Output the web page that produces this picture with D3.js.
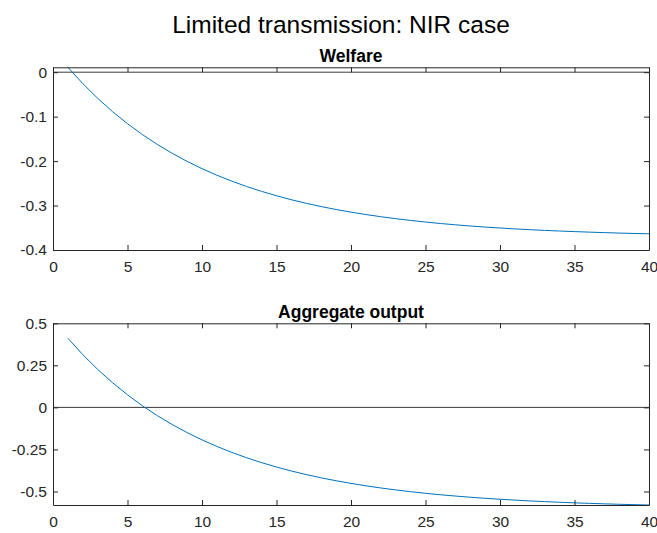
<!DOCTYPE html>
<html>
<head>
<meta charset="utf-8">
<script src="https://cdn.jsdelivr.net/npm/d3@7"></script>
<style>
  body { margin: 0; background: #fff; }
  svg { display: block; }
  text { font-family: "Liberation Sans", Arial, Helvetica, sans-serif; fill: #262626; }
</style>
</head>
<body>
<svg id="chart" width="657" height="533"></svg>
<script>
// Impulse responses over 40 periods
const periods = d3.range(1, 41);

const welfare = [
  0.0110, -0.0257, -0.0588, -0.0888, -0.1159, -0.1404, -0.1625, -0.1825, -0.2006, -0.2170,
  -0.2318, -0.2451, -0.2572, -0.2681, -0.2780, -0.2869, -0.2950, -0.3023, -0.3089, -0.3149,
  -0.3202, -0.3251, -0.3295, -0.3335, -0.3371, -0.3404, -0.3433, -0.3460, -0.3484, -0.3505,
  -0.3525, -0.3543, -0.3559, -0.3573, -0.3586, -0.3598, -0.3609, -0.3619, -0.3628, -0.3635
];

const aggregateOutput = [
  0.4110, 0.3137, 0.2258, 0.1464, 0.0746, 0.0097, -0.0490, -0.1020, -0.1499, -0.1932,
  -0.2323, -0.2677, -0.2997, -0.3285, -0.3547, -0.3783, -0.3996, -0.4189, -0.4363, -0.4520,
  -0.4663, -0.4791, -0.4908, -0.5013, -0.5108, -0.5194, -0.5271, -0.5341, -0.5405, -0.5462,
  -0.5514, -0.5561, -0.5603, -0.5641, -0.5676, -0.5707, -0.5735, -0.5761, -0.5784, -0.5804
];

const xTicks = [0, 5, 10, 15, 20, 25, 30, 35, 40];
const welfareTicks = [-0.4, -0.3, -0.2, -0.1, 0];
const welfareTickLabels = ["-0.4", "-0.3", "-0.2", "-0.1", "0"];
const outputTicks = [-0.5, -0.25, 0, 0.25, 0.5];
const outputTickLabels = ["-0.5", "-0.25", "0", "0.25", "0.5"];

const figureTitle = "Limited transmission: NIR case";
const panelTitles = ["Welfare", "Aggregate output"];

const svg = d3.select("#chart");
const axisColor = "#262626";
const lineColor = "#0072BD";

const left = 53, right = 649;
const x = d3.scaleLinear().domain([0, 40]).range([left, right]);

const panels = [
  { title: panelTitles[0], values: welfare, ticks: welfareTicks, labels: welfareTickLabels,
    domain: [-0.4, d3.max(welfare)], top: 67.3, bottom: 250 },
  { title: panelTitles[1], values: aggregateOutput, ticks: outputTicks, labels: outputTickLabels,
    domain: [d3.min(aggregateOutput), 0.5], top: 323.3, bottom: 505 }
];

svg.append("text")
  .attr("x", 341).attr("y", 33)
  .attr("text-anchor", "middle")
  .style("font-size", "24.5px")
  .style("fill", "#000")
  .text(figureTitle);

panels.forEach(p => {
  const y = d3.scaleLinear().domain(p.domain).range([p.bottom, p.top]);
  const g = svg.append("g");

  // zero reference line
  g.append("line")
    .attr("x1", left).attr("x2", right)
    .attr("y1", y(0)).attr("y2", y(0))
    .attr("stroke", "#3a3a3a").attr("stroke-width", 1);

  // response curve
  const line = d3.line().x((d, i) => x(periods[i])).y(d => y(d));
  g.append("path")
    .datum(p.values)
    .attr("fill", "none")
    .attr("stroke", lineColor)
    .attr("stroke-width", 1)
    .attr("d", line);

  const labelMap = new Map(p.ticks.map((t, i) => [t, p.labels[i]]));

  const style = sel => {
    sel.select(".domain").attr("stroke", axisColor);
    sel.selectAll(".tick line").attr("stroke", axisColor);
    sel.selectAll(".tick text").style("font-size", "15.5px").attr("fill", axisColor);
  };

  g.append("g").attr("transform", `translate(0,${p.bottom})`)
    .call(d3.axisBottom(x).tickValues(xTicks).tickSizeInner(-5).tickSizeOuter(0).tickPadding(11))
    .call(style);
  g.append("g").attr("transform", `translate(0,${p.top})`)
    .call(d3.axisTop(x).tickValues(xTicks).tickSizeInner(-5).tickSizeOuter(0).tickFormat(""))
    .call(style);
  g.append("g").attr("transform", `translate(${left},0)`)
    .call(d3.axisLeft(y).tickValues(p.ticks).tickSizeInner(-5).tickSizeOuter(0).tickPadding(6)
      .tickFormat(d => labelMap.get(d)))
    .call(style);
  g.append("g").attr("transform", `translate(${right},0)`)
    .call(d3.axisRight(y).tickValues(p.ticks).tickSizeInner(-5).tickSizeOuter(0).tickFormat(""))
    .call(style);

  g.selectAll(".domain").attr("stroke-width", 1);

  g.append("text")
    .attr("x", 351).attr("y", p.top - 5.5)
    .attr("text-anchor", "middle")
    .style("font-size", "17.5px")
    .style("font-weight", "bold")
    .style("fill", "#000")
    .text(p.title);
});
</script>
</body>
</html>
